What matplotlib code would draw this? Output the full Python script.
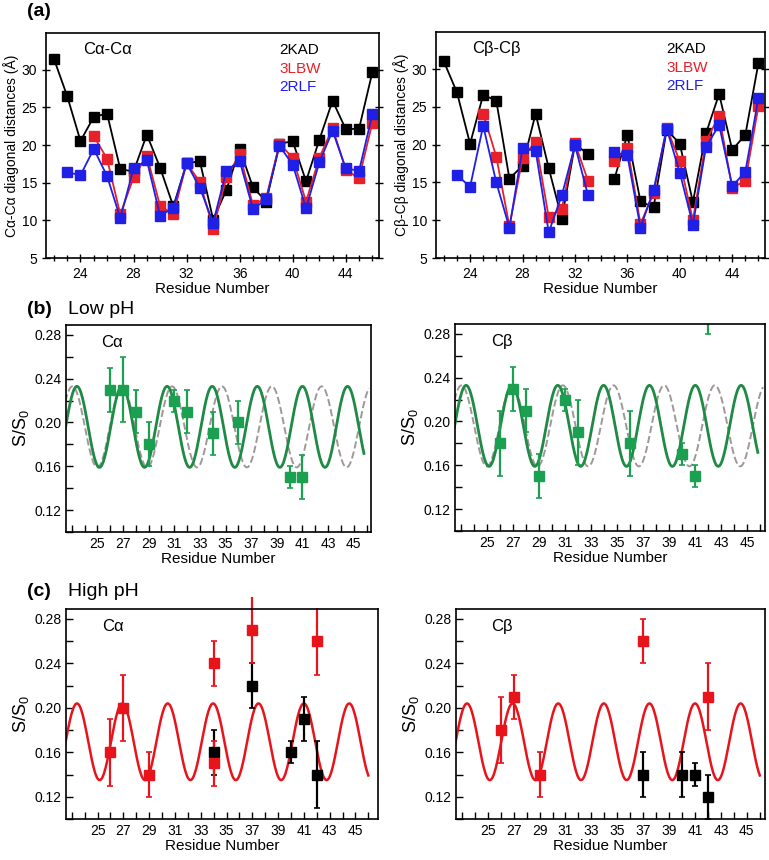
import numpy as np
import matplotlib
matplotlib.use('Agg')
import matplotlib.pyplot as plt
from matplotlib.ticker import MultipleLocator

plt.rcParams['font.family'] = ['Liberation Sans', 'DejaVu Sans']
plt.rcParams['mathtext.fontset'] = 'custom'
plt.rcParams['mathtext.rm'] = 'Liberation Sans'

# ---- panel (a): diagonal distances ----
residues = np.arange(22, 47)
nan = np.nan

ca_2kad = [31.45, 26.5, 20.55, 23.75, 24.2, 16.8, 16.5, 21.4, 17.0, 11.85, 17.6, 17.85,
           10.1, 14.05, 19.5, 14.4, 12.5, 20.2, 20.5, 15.2, 20.7, 25.9, 22.1, 22.2, 29.7]
ca_3lbw = [nan, nan, nan, 21.2, 18.2, 10.8, 15.7, 18.6, 11.9, 10.8, 17.6, 15.1,
           8.9, 15.7, 18.8, 12.0, 13.0, 20.2, 18.3, 12.5, 18.3, 22.3, 16.7, 15.6, 23.0]
ca_2rlf = [nan, 16.4, 16.0, 19.5, 15.9, 10.3, 16.9, 18.0, 10.6, 11.7, 17.6, 14.3,
           9.7, 16.6, 17.9, 11.5, 12.8, 19.9, 17.4, 11.6, 17.7, 21.9, 16.9, 16.6, 24.1]

cb_2kad = [31.0, 26.9, 20.1, 26.6, 25.8, 15.5, 17.2, 24.1, 16.9, 10.2, 20.0, 18.8,
           nan, 15.4, 21.3, 12.5, 11.7, 22.0, 20.1, 12.4, 21.5, 26.7, 19.3, 21.3, 30.8]
cb_3lbw = [nan, nan, nan, 24.1, 18.4, 9.2, 18.2, 20.4, 10.4, 11.5, 20.2, 15.2,
           nan, 17.8, 19.6, 9.5, 13.6, 22.2, 17.8, 10.0, 20.5, 23.8, 14.3, 15.2, 25.1]
cb_2rlf = [nan, 16.0, 14.4, 22.5, 15.0, 9.0, 19.5, 19.2, 8.4, 13.3, 19.9, 13.3,
           nan, 19.0, 18.6, 9.0, 14.0, 22.1, 16.3, 9.4, 19.7, 22.6, 14.5, 16.4, 26.2]

structures = ['2KAD', '3LBW', '2RLF']
struct_colors = ['black', '#e8202a', '#1f1fe6']

# ---- panel (b): low pH, S/S0 ----
low_ca_res = [26, 27, 28, 29, 31, 32, 34, 36, 40, 41]
low_ca_val = [0.23, 0.23, 0.21, 0.18, 0.22, 0.21, 0.19, 0.20, 0.15, 0.15]
low_ca_err = [0.02, 0.03, 0.02, 0.02, 0.01, 0.02, 0.02, 0.02, 0.01, 0.02]

low_cb_res = [26, 27, 28, 29, 31, 32, 36, 40, 41, 42]
low_cb_val = [0.18, 0.23, 0.21, 0.15, 0.22, 0.19, 0.18, 0.17, 0.15, 0.30]
low_cb_err = [0.03, 0.02, 0.02, 0.02, 0.01, 0.03, 0.03, 0.01, 0.01, 0.02]

# ---- panel (c): high pH, S/S0 (red and black sets) ----
high_ca_red_res = [26, 27, 29, 34, 34, 37, 42]
high_ca_red_val = [0.16, 0.20, 0.14, 0.24, 0.15, 0.27, 0.26]
high_ca_red_err = [0.03, 0.03, 0.02, 0.02, 0.02, 0.03, 0.03]
high_ca_blk_res = [34, 37, 40, 41, 42]
high_ca_blk_val = [0.16, 0.22, 0.16, 0.19, 0.14]
high_ca_blk_err = [0.02, 0.02, 0.01, 0.02, 0.03]

high_cb_red_res = [26, 27, 29, 37, 42]
high_cb_red_val = [0.18, 0.21, 0.14, 0.26, 0.21]
high_cb_red_err = [0.03, 0.02, 0.02, 0.02, 0.03]
high_cb_blk_res = [37, 40, 41, 42]
high_cb_blk_val = [0.14, 0.14, 0.14, 0.12]
high_cb_blk_err = [0.02, 0.02, 0.01, 0.02]

# helical wave parameters
helix_period, helix_peak = 3.52, 23.4
alt_period, alt_peak = 3.89, 23.05
low_mean, low_amp = 0.196, 0.037
high_mean, high_amp = 0.1695, 0.0345

W, H = 769, 860
fig = plt.figure(figsize=(W / 100, H / 100), dpi=100)


def add_ax(left, right, top, bottom):
    return fig.add_axes([left / W, 1 - bottom / H, (right - left) / W, (bottom - top) / H])


def wave(x, mean, amp, period, peak):
    return mean + amp * np.cos(2 * np.pi * (x - peak) / period)


def style_dist(ax, title, ylabel):
    ax.set_xlim(21.4, 46.5)
    ax.set_ylim(5, 34.9)
    ax.xaxis.set_minor_locator(MultipleLocator(1))
    ax.yaxis.set_major_locator(MultipleLocator(5))
    ax.set_xticks([24, 28, 32, 36, 40, 44])
    ax.tick_params(which='both', direction='inout', top=False, right=True, labelsize=10, width=1.0)
    ax.tick_params(which='major', length=6)
    ax.tick_params(which='minor', length=5)
    ax.set_xlabel('Residue Number', fontsize=11, labelpad=1)
    ax.set_ylabel(ylabel, fontsize=10, labelpad=2)
    ax.text(0.11, 0.925, title, transform=ax.transAxes, fontsize=12, va='center')
    for i, (name, c) in enumerate(zip(structures, struct_colors)):
        ax.text(0.70, 0.925 - i * 0.083, name, color=c, transform=ax.transAxes,
                fontsize=11, va='center')
    for sp in ax.spines.values():
        sp.set_linewidth(1.2)


def style_ss(ax, label):
    ax.set_ylim(0.10, 0.289)
    ax.set_xticks(np.arange(25, 46, 2))
    ax.xaxis.set_minor_locator(MultipleLocator(1))
    ax.yaxis.set_major_locator(MultipleLocator(0.04))
    ax.yaxis.set_minor_locator(MultipleLocator(0.02))
    ax.yaxis.set_major_formatter(matplotlib.ticker.FormatStrFormatter('%.2f'))
    ax.tick_params(which='both', direction='in', labelsize=10, width=1.0)
    ax.tick_params(which='major', length=5)
    ax.tick_params(which='minor', length=5)
    ax.set_xlabel('Residue Number', fontsize=11, labelpad=1)
    ax.set_ylabel('S/S$_0$', fontsize=13, labelpad=2)
    ax.text(0.115, 0.915, label, transform=ax.transAxes, fontsize=12, va='center')
    for sp in ax.spines.values():
        sp.set_linewidth(1.2)


# (a) distances
for (l, r, t, b), series, title, ylab in [
        ((46, 379, 33, 258), [ca_2kad, ca_3lbw, ca_2rlf], 'Cα-Cα',
         'Cα-Cα diagonal distances (Å)'),
        ((436, 765, 32, 258), [cb_2kad, cb_3lbw, cb_2rlf], 'Cβ-Cβ',
         'Cβ-Cβ diagonal distances (Å)')]:
    ax = add_ax(l, r, t, b)
    for vals, c in zip(series, struct_colors):
        ax.plot(residues, vals, '-s', color=c, lw=1.3, ms=6.5, mec=c)
    style_dist(ax, title, ylab)

# (b) low pH
green_line = '#1e8a45'
green_mark = '#1aa050'
grey_dash = '#a09898'
for (l, r, t, b), res, val, err, lab in [
        ((66, 371, 325, 532), low_ca_res, low_ca_val, low_ca_err, 'Cα'),
        ((455, 765, 324, 531), low_cb_res, low_cb_val, low_cb_err, 'Cβ')]:
    ax = add_ax(l, r, t, b)
    x_alt = np.linspace(22.5, 46.2, 400)
    ax.plot(x_alt, wave(x_alt, low_mean, low_amp, alt_period, alt_peak), '--', color=grey_dash, lw=1.4)
    x_hel = np.linspace(22.5, 45.8, 400)
    ax.plot(x_hel, wave(x_hel, low_mean, low_amp, helix_period, helix_peak), '-', color=green_line, lw=2.0)
    ax.errorbar(res, val, yerr=err, fmt='s', color=green_mark, ms=7, capsize=2.5, elinewidth=1.6, capthick=1.2)
    ax.set_xlim(22.55, 46.35)
    style_ss(ax, lab)

# (c) high pH
red = '#e8141c'
for (l, r, t, b), rr, rv, re, br, bv, be, lab in [
        ((66, 378, 609, 819), high_ca_red_res, high_ca_red_val, high_ca_red_err,
         high_ca_blk_res, high_ca_blk_val, high_ca_blk_err, 'Cα'),
        ((456, 765, 609, 819), high_cb_red_res, high_cb_red_val, high_cb_red_err,
         high_cb_blk_res, high_cb_blk_val, high_cb_blk_err, 'Cβ')]:
    ax = add_ax(l, r, t, b)
    x_hel = np.linspace(22.5, 46.0, 400)
    ax.plot(x_hel, wave(x_hel, high_mean, high_amp, helix_period, helix_peak), '-', color=red, lw=1.8)
    ax.errorbar(br, bv, yerr=be, fmt='s', color='black', ms=7, capsize=2.5, elinewidth=1.6, capthick=1.2)
    eb = ax.errorbar(rr, rv, yerr=re, fmt='s', color=red, ms=7, capsize=2.5, elinewidth=1.6, capthick=1.2)
    for art in eb.lines[2]:
        art.set_clip_on(False)
    ax.set_xlim(22.55, 46.75 if l < 100 else 46.4)
    style_ss(ax, lab)

fig.text(27 / W, 1 - 12 / H, '(a)', fontsize=14, fontweight='bold', va='center')
fig.text(27 / W, 1 - 310 / H, '(b)', fontsize=14, fontweight='bold', va='center')
fig.text(68 / W, 1 - 310 / H, 'Low pH', fontsize=14, va='center')
fig.text(27 / W, 1 - 591 / H, '(c)', fontsize=14, fontweight='bold', va='center')
fig.text(68 / W, 1 - 591 / H, 'High pH', fontsize=14, va='center')

fig.savefig('out.png', dpi=100)
